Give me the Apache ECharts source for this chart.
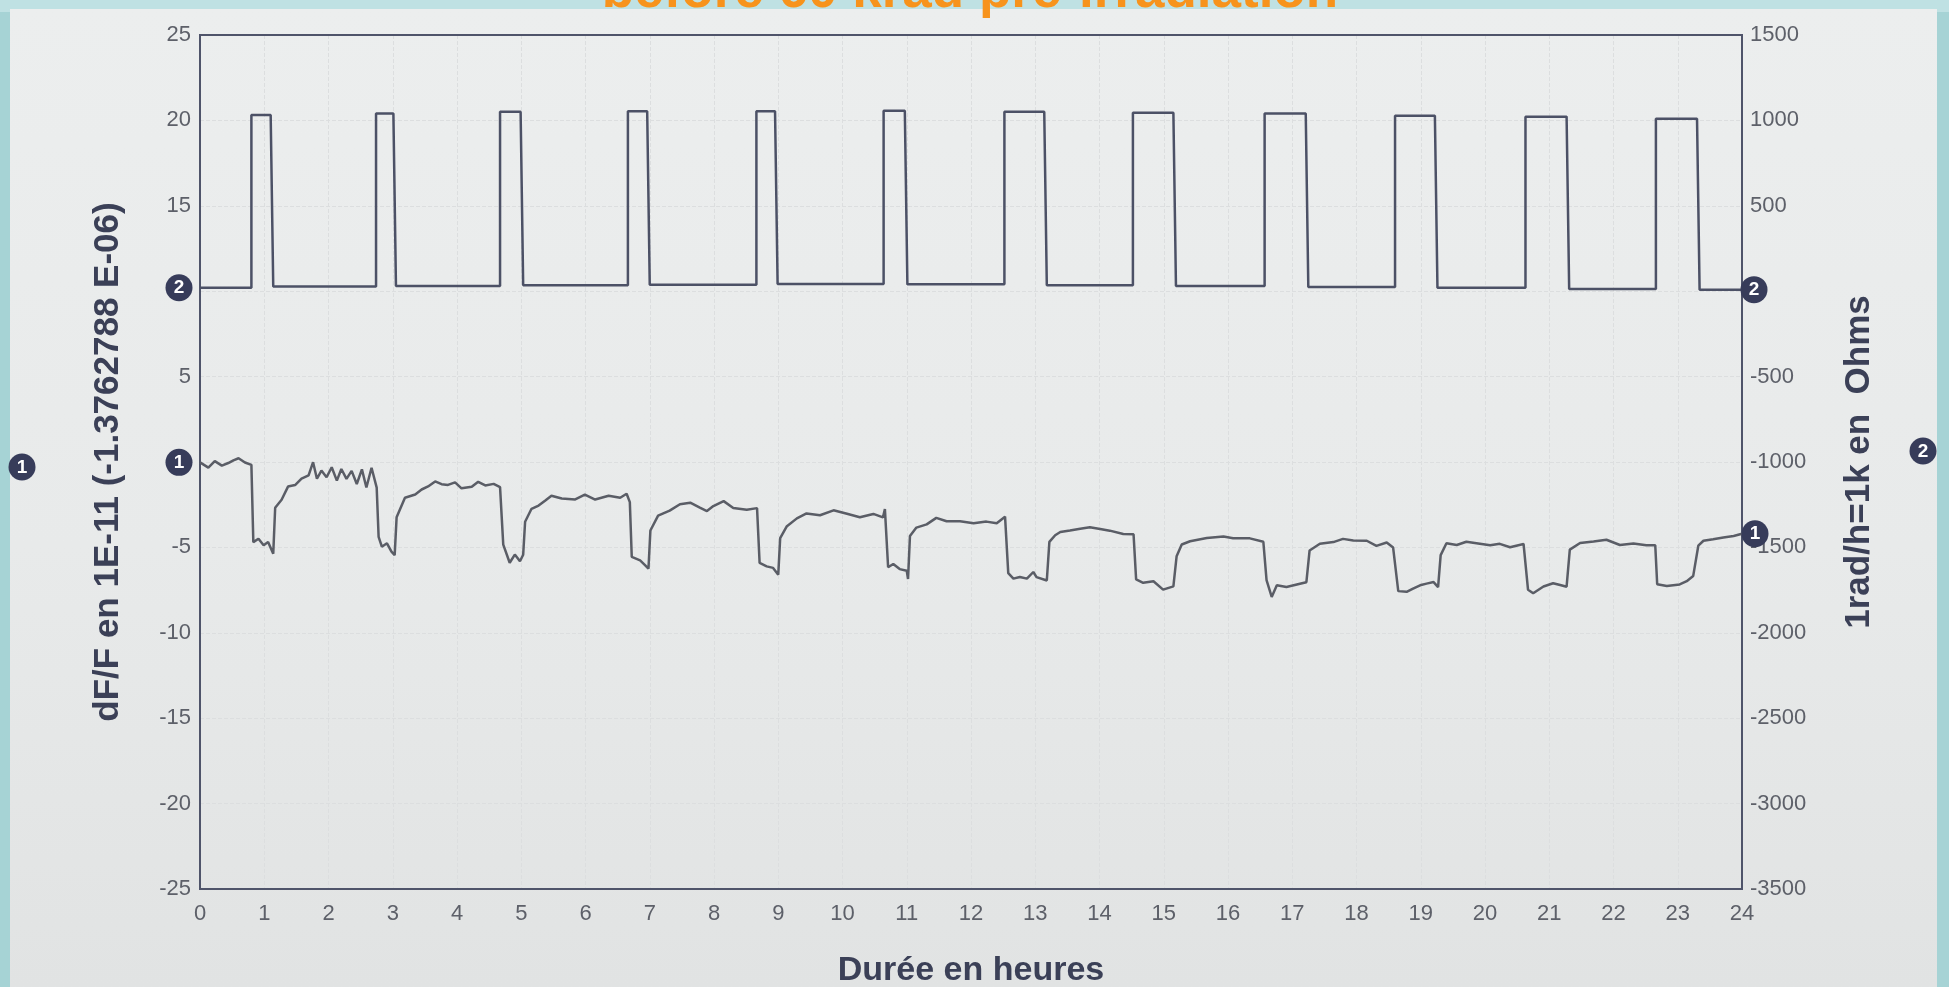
<!DOCTYPE html>
<html>
<head>
<meta charset="utf-8">
<script src="https://cdn.jsdelivr.net/npm/echarts@6/dist/echarts.min.js"></script>
<style>
html,body{margin:0;padding:0;width:1949px;height:987px;overflow:hidden;background:#a6d3d5;}
#topband{position:absolute;left:0;top:0;width:1949px;height:12px;background:#bfe1e3;}
#paper{position:absolute;left:10px;top:9px;width:1927px;height:978px;
  background:linear-gradient(180deg,#eceeee 0%,#e8eaea 55%,#e1e3e3 100%);}
#chart{position:absolute;left:0;top:0;width:1949px;height:987px;}
</style>
</head>
<body>
<div id="topband"></div>
<div id="paper"></div>
<div id="chart"></div>
<script>
// ---------- data ----------
const titleText = 'before 60 krad pre-irradiation';
const xName = 'Durée en heures';
const leftName = 'dF/F en 1E-11 (-1.3762788 E-06)';
const rightName = '1rad/h=1k en  Ohms';

// Series 1 : dF/F (left axis), time in hours
const s1Hours = [0.00,0.13,0.23,0.34,0.44,0.52,0.60,0.70,0.80,0.83,0.91,0.99,1.06,1.14,1.17,1.27,1.37,1.48,1.58,1.69,1.76,1.82,1.89,1.97,2.05,2.13,2.20,2.28,2.36,2.44,2.52,2.59,2.67,2.75,2.78,2.83,2.91,2.98,3.03,3.06,3.19,3.35,3.45,3.55,3.66,3.76,3.86,3.97,4.07,4.23,4.33,4.44,4.57,4.67,4.72,4.82,4.90,4.98,5.03,5.06,5.16,5.27,5.37,5.47,5.63,5.84,5.99,6.15,6.36,6.54,6.64,6.69,6.72,6.85,6.93,6.98,7.01,7.13,7.31,7.47,7.63,7.78,7.89,7.99,8.15,8.30,8.51,8.67,8.71,8.82,8.92,9.00,9.03,9.13,9.29,9.44,9.65,9.86,10.07,10.27,10.48,10.63,10.66,10.71,10.79,10.89,11.00,11.02,11.05,11.15,11.31,11.46,11.62,11.83,12.04,12.24,12.40,12.53,12.58,12.66,12.76,12.87,12.97,13.02,13.18,13.22,13.31,13.39,13.54,13.70,13.85,14.01,14.16,14.37,14.53,14.57,14.68,14.84,14.99,15.15,15.20,15.28,15.41,15.67,15.93,16.08,16.34,16.55,16.60,16.68,16.76,16.91,17.12,17.22,17.27,17.43,17.64,17.79,17.95,18.16,18.31,18.47,18.57,18.65,18.78,18.88,18.99,19.09,19.20,19.27,19.31,19.40,19.56,19.71,19.92,20.08,20.23,20.39,20.60,20.67,20.75,20.91,21.06,21.17,21.27,21.32,21.48,21.69,21.89,22.10,22.31,22.51,22.65,22.68,22.83,23.03,23.14,23.24,23.32,23.40,23.55,23.71,23.87,24.00];
const s1Values = [-0.02,-0.33,0.05,-0.21,-0.06,0.10,0.22,-0.03,-0.17,-4.69,-4.49,-4.88,-4.69,-5.37,-2.68,-2.21,-1.44,-1.35,-0.97,-0.78,-0.01,-0.98,-0.50,-0.89,-0.31,-1.09,-0.41,-0.99,-0.52,-1.29,-0.43,-1.49,-0.34,-1.50,-4.38,-4.96,-4.76,-5.25,-5.45,-3.24,-2.09,-1.90,-1.61,-1.43,-1.14,-1.30,-1.34,-1.19,-1.54,-1.45,-1.16,-1.37,-1.28,-1.47,-4.84,-5.90,-5.42,-5.81,-5.43,-3.50,-2.74,-2.55,-2.27,-1.98,-2.14,-2.19,-1.91,-2.20,-1.98,-2.09,-1.86,-2.35,-5.56,-5.76,-6.05,-6.25,-4.01,-3.14,-2.85,-2.47,-2.38,-2.67,-2.87,-2.58,-2.29,-2.69,-2.79,-2.70,-5.91,-6.11,-6.20,-6.60,-4.46,-3.78,-3.30,-3.01,-3.12,-2.83,-3.03,-3.23,-3.04,-3.24,-2.76,-6.16,-5.97,-6.27,-6.37,-6.85,-4.33,-3.84,-3.65,-3.27,-3.47,-3.47,-3.58,-3.49,-3.59,-3.20,-6.51,-6.83,-6.73,-6.83,-6.44,-6.74,-6.94,-4.68,-4.29,-4.10,-4.01,-3.91,-3.82,-3.92,-4.02,-4.22,-4.23,-6.87,-7.07,-6.98,-7.47,-7.28,-5.52,-4.83,-4.64,-4.45,-4.36,-4.46,-4.47,-4.67,-6.92,-7.90,-7.22,-7.32,-7.13,-7.04,-5.18,-4.79,-4.69,-4.50,-4.60,-4.61,-4.91,-4.71,-5.01,-7.56,-7.60,-7.41,-7.22,-7.12,-7.03,-7.33,-5.45,-4.76,-4.86,-4.67,-4.78,-4.88,-4.79,-4.99,-4.80,-7.48,-7.68,-7.29,-7.10,-7.20,-7.30,-5.13,-4.74,-4.65,-4.55,-4.86,-4.77,-4.88,-4.88,-7.16,-7.26,-7.17,-6.98,-6.68,-4.90,-4.61,-4.52,-4.42,-4.33,-4.20];

// Series 2 : irradiation pulses (right axis, Ohms)
const pulseOn  = [0.80,2.74,4.67,6.66,8.66,10.64,12.52,14.52,16.57,18.60,20.63,22.66];
const pulseOff = [1.10,3.01,4.99,6.96,8.95,10.97,13.14,15.15,17.21,19.22,21.27,23.30];
const pulseTop = [1031,1041,1050,1053,1054,1056,1051,1045,1040,1027,1022,1010];
const baseLevel = [20,27,30,35,38,42,40,35,30,25,20,13,9];

const xTicks = {min:0, max:24, step:1};
const leftTicks = {min:-25, max:25, step:5};
const rightTicks = {min:-3500, max:1500, step:500};

// ---------- build series ----------
const s1 = s1Hours.map((h,i)=>[h, s1Values[i]]);
const s2 = [[0, baseLevel[0]]];
pulseOn.forEach((t,i)=>{
  s2.push([t, baseLevel[i]]);
  s2.push([t, pulseTop[i]]);
  s2.push([pulseOff[i], pulseTop[i]]);
  s2.push([pulseOff[i]+0.04, baseLevel[i+1]]);
});
s2.push([24, baseLevel[baseLevel.length-1]]);

const FONT = '"Liberation Sans", Arial, Helvetica, sans-serif';
const INK = '#3b4057';
const FRAME = '#4f546a';
const MARK = '#373c5a';
const GRIDLINE = {show:true, showMinLine:false, showMaxLine:false, lineStyle:{color:'#dcdedf', type:'dashed', width:1}};

const chart = echarts.init(document.getElementById('chart'), null, {renderer:'canvas'});

function marker(x, y, n){
  return [
    {type:'circle', shape:{cx:x, cy:y, r:13.5}, style:{fill:MARK}, z:50},
    {type:'text', x:x, y:y+1, z:51, style:{text:n, fill:'#ffffff', font:'bold 19px '+FONT, textAlign:'center', textVerticalAlign:'middle'}}
  ];
}

const markStyle = {
  symbol:'circle', symbolSize:27, silent:true, animation:false,
  itemStyle:{color:MARK},
  label:{show:true, position:'inside', color:'#ffffff', fontWeight:'bold', fontSize:19, fontFamily:FONT}
};

const option = {
  animation:false,
  backgroundColor:'transparent',
  grid:{left:200, right:207, top:35, bottom:98, show:true, borderColor:FRAME, borderWidth:2, backgroundColor:'transparent',
        containLabel:false, outerBoundsMode:'none', z:3},
  xAxis:{
    type:'value', min:xTicks.min, max:xTicks.max, interval:xTicks.step,
    name:xName, nameLocation:'middle', nameGap:65,
    nameTextStyle:{fontFamily:FONT, fontSize:34, fontWeight:'bold', color:INK},
    axisLine:{show:true, onZero:false, lineStyle:{color:FRAME, width:2}},
    axisTick:{show:false},
    axisLabel:{fontFamily:FONT, fontSize:22, color:'#5d6069', margin:14},
    splitLine:GRIDLINE
  },
  yAxis:[
    {
      type:'value', position:'left', min:leftTicks.min, max:leftTicks.max, interval:leftTicks.step,
      name:leftName, nameLocation:'middle', nameRotate:90, nameGap:74,
      nameTextStyle:{fontFamily:FONT, fontSize:35, fontWeight:'bold', color:INK},
      axisLine:{show:true, onZero:false, lineStyle:{color:FRAME, width:2}},
      axisTick:{show:false},
      axisLabel:{fontFamily:FONT, fontSize:22, color:'#5d6069', margin:9,
        formatter:v => (v===10 || v===0) ? '' : String(v)},
      splitLine:GRIDLINE
    },
    {
      type:'value', position:'right', min:rightTicks.min, max:rightTicks.max, interval:rightTicks.step,
      name:rightName, nameLocation:'middle', nameRotate:90, nameGap:100,
      nameTextStyle:{fontFamily:FONT, fontSize:35, fontWeight:'bold', color:INK},
      axisLine:{show:true, onZero:false, lineStyle:{color:FRAME, width:2}},
      axisTick:{show:false},
      axisLabel:{fontFamily:FONT, fontSize:22, color:'#5d6069', margin:8,
        formatter:v => v===0 ? '' : String(v)},
      splitLine:{show:false}
    }
  ],
  series:[
    {
      name:'dF/F', type:'line', yAxisIndex:0, data:s1, showSymbol:false, z:3,
      lineStyle:{color:'#5a5d66', width:2.5},
      markPoint:Object.assign({}, markStyle, {
        label:Object.assign({}, markStyle.label, {formatter:'1'}),
        data:[
          {coord:s1[0], symbolOffset:[-21,0]},
          {coord:s1[s1.length-1], symbolOffset:[13,0]}
        ]})
    },
    {
      name:'Ohms', type:'line', yAxisIndex:1, data:s2, showSymbol:false, z:3,
      lineStyle:{color:'#4c5166', width:2.5},
      markPoint:Object.assign({}, markStyle, {
        label:Object.assign({}, markStyle.label, {formatter:'2'}),
        data:[
          {coord:s2[0], symbolOffset:[-21,0]},
          {coord:s2[s2.length-1], symbolOffset:[12,0]}
        ]})
    }
  ],
  graphic:[
    {type:'text', x:970, y:-8, z:60,
     style:{text:titleText, font:'bold 53px '+FONT, fill:'#f7931c', textAlign:'center', textVerticalAlign:'middle',
            shadowColor:'rgba(60,60,60,0.45)', shadowOffsetX:2, shadowOffsetY:2, shadowBlur:2}}
  ].concat(marker(22, 467, '1')).concat(marker(1923, 451, '2'))
};
chart.setOption(option);
</script>
</body>
</html>
